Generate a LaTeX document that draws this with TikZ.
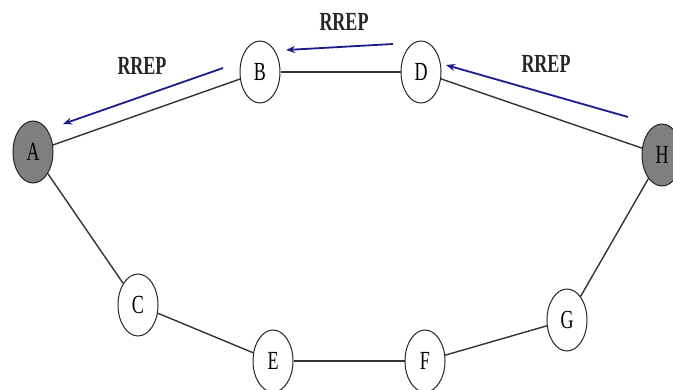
\documentclass[tikz,border=0pt]{standalone}
\usepackage{fontspec}
\setmainfont{Liberation Serif}
\usetikzlibrary{shapes.geometric,arrows.meta}
\definecolor{msgblue}{HTML}{1C1C8A}
\definecolor{nodegray}{HTML}{7F7F7F}
\tikzset{
  netnode/.style={ellipse, draw=black!85, line width=1pt, fill=white, minimum width=40pt, minimum height=62pt, inner sep=0pt, font=\fontsize{18}{18}\selectfont},
  endnode/.style={netnode, fill=nodegray},
  link/.style={draw=black!80, line width=1.4pt},
  msg/.style={draw=msgblue, line width=1.8pt, -{Stealth[length=9pt,width=7pt]}},
  msglabel/.style={font=\fontsize{18}{18}\selectfont\bfseries, text=black!85}
}
\newcommand{\tallt}[1]{\scalebox{1}[1.45]{#1}}
\begin{document}
\begin{tikzpicture}[x=1pt,y=-1pt]
\useasboundingbox (0,0) rectangle (673,389);
\clip (0,0) rectangle (673,389);
% nodes
\node[endnode] (A) at (33,152) {\tallt{A}};
\node[netnode] (B) at (260,72) {\tallt{B}};
\node[netnode] (D) at (421,72) {\tallt{D}};
\node[endnode] (H) at (662,155) {\tallt{H}};
\node[netnode] (C) at (138,305) {\tallt{C}};
\node[netnode] (E) at (273,361) {\tallt{E}};
\node[netnode] (F) at (425,361) {\tallt{F}};
\node[netnode] (G) at (567,320) {\tallt{G}};
% links
\draw[link] (A) -- (B);
\draw[link] (B) -- (D);
\draw[link] (D) -- (H);
\draw[link] (A) -- (C);
\draw[link] (C) -- (E);
\draw[link] (E) -- (F);
\draw[link] (F) -- (G);
\draw[link] (G) -- (H);
% RREP arrows
\coordinate (m1s) at (223,68);
\coordinate (m1e) at (63,124);
\coordinate (m2s) at (393,44);
\coordinate (m2e) at (286,50);
\coordinate (m3s) at (628,117);
\coordinate (m3e) at (446,65);
\draw[msg] (m1s) -- (m1e);
\draw[msg] (m2s) -- (m2e);
\draw[msg] (m3s) -- (m3e);
% labels
\node[msglabel] (l1) at (142,66) {\tallt{RREP}};
\node[msglabel] (l2) at (344,22) {\tallt{RREP}};
\node[msglabel] (l3) at (546,64) {\tallt{RREP}};
\end{tikzpicture}
\end{document}
